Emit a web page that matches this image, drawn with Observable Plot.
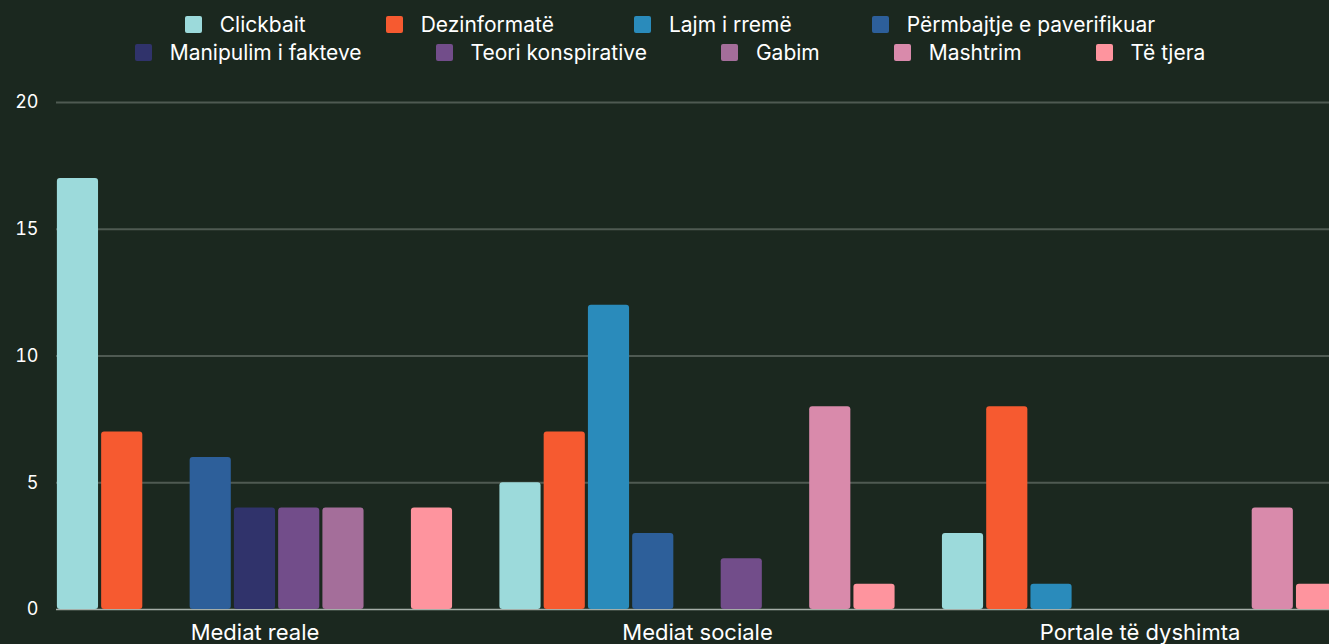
<!DOCTYPE html>
<html><head><meta charset="utf-8">
<script src="https://cdn.jsdelivr.net/npm/d3@7"></script>
<script src="https://cdn.jsdelivr.net/npm/@observablehq/plot@0.6"></script>
<style>
html,body{margin:0;padding:0;background:#1b281f;overflow:hidden;width:1329px;height:644px}
body{font-family:Inter,"Noto Sans",sans-serif;color:#fff}
#legend{width:1340px;height:70px;box-sizing:border-box;padding-top:10px}
.row{display:flex;justify-content:center;height:28px;align-items:center}
.row.r0{column-gap:80px}
.row.r1{column-gap:74px}
.item{display:flex;align-items:center;font-size:21px;white-space:nowrap}
.sw{width:17px;height:17px;margin-right:18px;border-radius:2px}
#chart{width:1340px}
#chart svg{display:block;overflow:visible;max-width:none !important;width:1340px;height:574px !important}
</style></head>
<body>
<div id="legend"></div>
<div id="chart"></div>
<script>
const groups = ["Mediat reale", "Mediat sociale", "Portale të dyshimta"];
const series = ["Clickbait", "Dezinformatë", "Lajm i rremë", "Përmbajtje e paverifikuar", "Manipulim i fakteve", "Teori konspirative", "Gabim", "Mashtrim", "Të tjera"];
const colors = ["#9cdadb", "#f65a30", "#2a8bbb", "#2d5f9a", "#30336b", "#724d8a", "#a46e9a", "#d98aab", "#fe949e"];
const clickbait = [17, 5, 3];
const dezinformate = [7, 7, 8];
const lajmIRreme = [0, 12, 1];
const permbajtje = [6, 3, 0];
const manipulim = [4, 0, 0];
const teori = [4, 2, 0];
const gabim = [4, 0, 0];
const mashtrim = [0, 8, 4];
const teTjera = [4, 1, 1];
const yTicks = [0, 5, 10, 15, 20];
const legendRows = [series.slice(0, 4), series.slice(4)];

const valuesBySeries = [clickbait, dezinformate, lajmIRreme, permbajtje, manipulim, teori, gabim, mashtrim, teTjera];
const key = (g, s) => g + "|" + s;
// x domain: each group's series slots, with one empty slot between groups
const xDomain = [];
groups.forEach((g, j) => {
  series.forEach(s => xDomain.push(key(g, s)));
  if (j < groups.length - 1) xDomain.push("gap" + j);
});
const data = [];
series.forEach((s, i) => groups.forEach((g, j) => {
  if (valuesBySeries[i][j] > 0) data.push({group: g, series: s, key: key(g, s), value: valuesBySeries[i][j]});
}));

const legend = document.getElementById("legend");
legendRows.forEach((row, ri) => {
  const r = document.createElement("div"); r.className = "row r" + ri;
  row.forEach(s => {
    const it = document.createElement("div"); it.className = "item";
    const sw = document.createElement("span"); sw.className = "sw"; sw.style.background = colors[series.indexOf(s)];
    const t = document.createElement("span"); t.textContent = s;
    it.appendChild(sw); it.appendChild(t); r.appendChild(it);
  });
  legend.appendChild(r);
});

const chart = Plot.plot({
  width: 1340, height: 574,
  marginTop: 32, marginBottom: 35, marginLeft: 56, marginRight: 2,
  style: {background: "transparent", color: "#fff", fontFamily: "Inter, 'Noto Sans', sans-serif", fontSize: "18px", overflow: "visible"},
  x: {domain: xDomain, axis: null, paddingInner: 0.07, paddingOuter: 0.02, round: false},
  y: {domain: [0, 20], label: null},
  color: {domain: series, range: colors},
  marks: [
    Plot.ruleY(yTicks.filter(d => d > 0), {stroke: "#4f5a52", strokeWidth: 2}),
    Plot.ruleY([0], {stroke: "#a5aea8", strokeWidth: 1.5}),
    Plot.barY(data, {x: "key", y: "value", fill: "series", rx: 3}),
    Plot.axisY(yTicks, {tickSize: 0, tickPadding: 18, fontSize: 18, label: null}),
    Plot.text(groups, {x: g => key(g, series[4]), frameAnchor: "bottom", dy: 30, fontSize: 22, fill: "#fff"})
  ]
});
document.getElementById("chart").appendChild(chart);
</script>
</body></html>
